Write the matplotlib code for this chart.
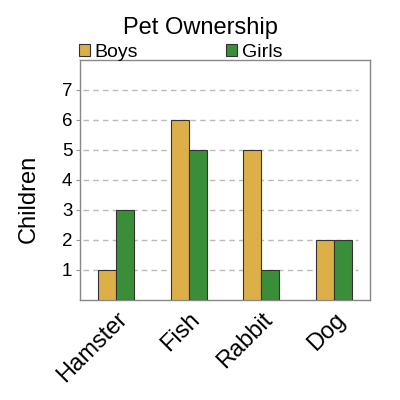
import numpy as np
import matplotlib
matplotlib.use("Agg")
import matplotlib.pyplot as plt

plt.rcParams['font.family'] = ['Liberation Sans', 'DejaVu Sans']

# data
pets = ['Hamster', 'Fish', 'Rabbit', 'Dog']
boys = [1, 6, 5, 2]
girls = [3, 5, 1, 2]
y_ticks = [1, 2, 3, 4, 5, 6, 7]

boys_color = '#DDAF48'
girls_color = '#3A8E3A'

fig = plt.figure(figsize=(4, 4), dpi=100)
ax = fig.add_axes([0.20, 0.25, 0.725, 0.60])

x = np.arange(len(pets))
w = 0.25
b1 = ax.bar(x - w / 2, boys, w, color=boys_color, edgecolor='#333333', linewidth=0.8, label='Boys', zorder=3)
b2 = ax.bar(x + w / 2, girls, w, color=girls_color, edgecolor='#333333', linewidth=0.8, label='Girls', zorder=3)

ax.set_xlim(-0.5, 3.5)
ax.set_ylim(0, 8)
ax.set_yticks(y_ticks)
ax.set_yticklabels([str(t) for t in y_ticks], fontsize=13.5)
ax.set_xticks(x)
ax.set_xticklabels(pets, fontsize=17, rotation=45, ha='right', rotation_mode='anchor')
ax.tick_params(axis='x', length=0, pad=6)
ax.tick_params(axis='y', length=3, color='#999999', pad=2.5)

for t in y_ticks:
    ax.axhline(t, xmin=0.01, xmax=0.96, color='#bbbbbb', linestyle=(0, (4, 3)), linewidth=1, zorder=1)

for s in ax.spines.values():
    s.set_color('#888888')
    s.set_linewidth(1)

ax.set_ylabel('Children', fontsize=17)
ax.yaxis.set_label_coords(-0.138, 0.42)
fig.text(0.5, 0.93, 'Pet Ownership', ha='center', va='center', fontsize=17)

ax.legend(handles=[b1, b2], loc='lower left', bbox_to_anchor=(-0.005, 0.995), ncol=2,
          frameon=False, fontsize=14, handlelength=0.57, handleheight=0.57,
          handletextpad=0.26, columnspacing=4.5, borderaxespad=0, borderpad=0)

fig.savefig('out.png', dpi=100)
